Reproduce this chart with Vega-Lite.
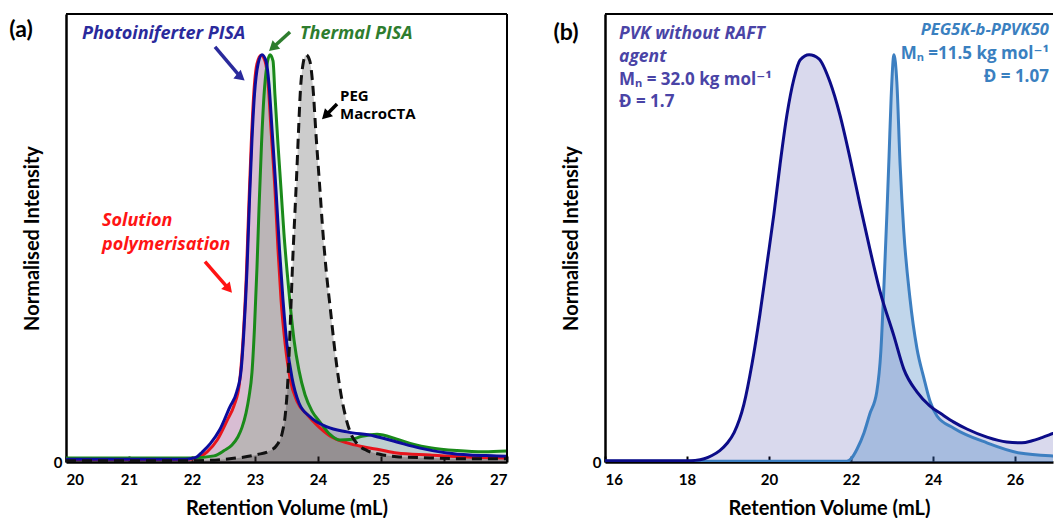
{
  "$schema": "https://vega.github.io/schema/vega-lite/v6.json",
  "autosize": {"type": "pad"},
  "padding": {"left": 9, "top": 13, "right": 0, "bottom": 0},
  "background": "white",
  "bounds": "flush",
  "spacing": 98,
  "datasets": {
    "red": [{"v":20,"i":0.006},{"v":21,"i":0.006},{"v":21.9,"i":0.006},{"v":22.08,"i":0.01},{"v":22.24,"i":0.025},{"v":22.4,"i":0.054},{"v":22.56,"i":0.103},{"v":22.67,"i":0.14},{"v":22.75,"i":0.19},{"v":22.81,"i":0.3},{"v":22.86,"i":0.448},{"v":22.9,"i":0.62},{"v":22.94,"i":0.78},{"v":22.98,"i":0.903},{"v":23.03,"i":0.977},{"v":23.095,"i":0.999},{"v":23.16,"i":0.984},{"v":23.21,"i":0.928},{"v":23.254,"i":0.817},{"v":23.317,"i":0.669},{"v":23.365,"i":0.522},{"v":23.413,"i":0.399},{"v":23.48,"i":0.288},{"v":23.56,"i":0.202},{"v":23.67,"i":0.148},{"v":23.83,"i":0.116},{"v":23.98,"i":0.091},{"v":24.19,"i":0.064},{"v":24.46,"i":0.047},{"v":24.73,"i":0.037},{"v":24.98,"i":0.03},{"v":25.25,"i":0.022},{"v":25.78,"i":0.017},{"v":26.32,"i":0.012},{"v":27,"i":0.01}],
    "blue": [{"v":20,"i":0.007},{"v":21,"i":0.007},{"v":21.9,"i":0.007},{"v":22.0,"i":0.009},{"v":22.08,"i":0.013},{"v":22.16,"i":0.024},{"v":22.29,"i":0.045},{"v":22.44,"i":0.079},{"v":22.6,"i":0.135},{"v":22.71,"i":0.172},{"v":22.78,"i":0.226},{"v":22.825,"i":0.325},{"v":22.873,"i":0.473},{"v":22.913,"i":0.645},{"v":22.952,"i":0.792},{"v":22.992,"i":0.903},{"v":23.048,"i":0.977},{"v":23.111,"i":1.0},{"v":23.175,"i":0.984},{"v":23.222,"i":0.928},{"v":23.27,"i":0.817},{"v":23.333,"i":0.669},{"v":23.389,"i":0.522},{"v":23.444,"i":0.399},{"v":23.508,"i":0.288},{"v":23.587,"i":0.207},{"v":23.698,"i":0.145},{"v":23.873,"i":0.111},{"v":24.143,"i":0.086},{"v":24.46,"i":0.074},{"v":24.89,"i":0.064},{"v":25.25,"i":0.049},{"v":25.62,"i":0.034},{"v":26.05,"i":0.022},{"v":26.41,"i":0.017},{"v":26.84,"i":0.015},{"v":27,"i":0.014}],
    "green": [{"v":20,"i":0.01},{"v":21,"i":0.01},{"v":22.0,"i":0.01},{"v":22.35,"i":0.015},{"v":22.51,"i":0.028},{"v":22.635,"i":0.042},{"v":22.73,"i":0.062},{"v":22.794,"i":0.085},{"v":22.857,"i":0.12},{"v":22.905,"i":0.16},{"v":22.952,"i":0.22},{"v":22.992,"i":0.33},{"v":23.032,"i":0.48},{"v":23.063,"i":0.62},{"v":23.103,"i":0.78},{"v":23.143,"i":0.9},{"v":23.19,"i":0.975},{"v":23.238,"i":1.0},{"v":23.286,"i":0.985},{"v":23.317,"i":0.9},{"v":23.365,"i":0.78},{"v":23.413,"i":0.67},{"v":23.46,"i":0.56},{"v":23.508,"i":0.47},{"v":23.556,"i":0.39},{"v":23.619,"i":0.3},{"v":23.698,"i":0.225},{"v":23.794,"i":0.165},{"v":23.905,"i":0.125},{"v":24.032,"i":0.098},{"v":24.19,"i":0.068},{"v":24.349,"i":0.054},{"v":24.508,"i":0.055},{"v":24.698,"i":0.063},{"v":24.937,"i":0.068},{"v":25.254,"i":0.056},{"v":25.524,"i":0.043},{"v":25.778,"i":0.035},{"v":26.206,"i":0.028},{"v":26.635,"i":0.025},{"v":27,"i":0.027}],
    "black": [{"v":20,"i":0.003},{"v":22.0,"i":0.003},{"v":22.29,"i":0.004},{"v":22.6,"i":0.008},{"v":23.03,"i":0.018},{"v":23.24,"i":0.028},{"v":23.35,"i":0.042},{"v":23.43,"i":0.07},{"v":23.48,"i":0.115},{"v":23.51,"i":0.17},{"v":23.54,"i":0.26},{"v":23.57,"i":0.38},{"v":23.6,"i":0.5},{"v":23.63,"i":0.6},{"v":23.66,"i":0.7},{"v":23.69,"i":0.81},{"v":23.72,"i":0.91},{"v":23.76,"i":0.975},{"v":23.81,"i":1.0},{"v":23.87,"i":0.985},{"v":23.92,"i":0.92},{"v":23.97,"i":0.8},{"v":24.03,"i":0.67},{"v":24.08,"i":0.56},{"v":24.13,"i":0.47},{"v":24.2,"i":0.37},{"v":24.27,"i":0.27},{"v":24.35,"i":0.18},{"v":24.44,"i":0.11},{"v":24.52,"i":0.07},{"v":24.62,"i":0.045},{"v":24.78,"i":0.028},{"v":24.98,"i":0.019},{"v":25.25,"i":0.013},{"v":25.78,"i":0.01},{"v":26.32,"i":0.008},{"v":27,"i":0.008}],
    "annA": [{"v":20.254,"i":1.051,"label":"Photoiniferter PISA","who":"photo"},{"v":23.714,"i":1.051,"label":"Thermal PISA","who":"thermal"},{"v":20.571,"i":0.591,"label":"Solution","who":"solution"},{"v":20.571,"i":0.532,"label":"polymerisation","who":"solution"}],
    "pegA": [{"v":24.349,"i":0.898,"label":"PEG"},{"v":24.349,"i":0.854,"label":"MacroCTA"}],
    "arrA": [{"v":22.365,"i":1.019,"v2":22.775,"i2":0.9445,"who":"photo"},{"v":23.556,"i":1.056,"v2":23.281,"i2":1.017,"who":"thermal"},{"v":24.302,"i":0.879,"v2":24.119,"i2":0.85,"who":"peg"},{"v":22.206,"i":0.492,"v2":22.583,"i2":0.425,"who":"solution"}],
    "headA": [{"v":22.775,"i":0.9445,"who":"photo"},{"v":23.281,"i":1.017,"who":"thermal"},{"v":24.119,"i":0.85,"who":"peg"},{"v":22.583,"i":0.425,"who":"solution"}],
    "tagA": [{"v":19.286,"i":1.061,"label":"(a)"}],
    "frameA": [{"v":20,"v2":27,"i":1.1,"i2":1.1},{"v":27,"v2":27,"i":0,"i2":1.1}],
    "pvk": [{"v":16,"i":0.003},{"v":17,"i":0.003},{"v":18,"i":0.003},{"v":18.2,"i":0.004},{"v":18.42,"i":0.008},{"v":18.61,"i":0.016},{"v":18.8,"i":0.028},{"v":18.98,"i":0.046},{"v":19.15,"i":0.072},{"v":19.39,"i":0.142},{"v":19.585,"i":0.24},{"v":19.78,"i":0.363},{"v":19.95,"i":0.485},{"v":20.12,"i":0.608},{"v":20.27,"i":0.73},{"v":20.44,"i":0.853},{"v":20.61,"i":0.941},{"v":20.76,"i":0.987},{"v":20.98,"i":1.0},{"v":21.22,"i":0.99},{"v":21.49,"i":0.933},{"v":21.73,"i":0.853},{"v":21.98,"i":0.745},{"v":22.22,"i":0.632},{"v":22.46,"i":0.524},{"v":22.71,"i":0.419},{"v":23.05,"i":0.309},{"v":23.29,"i":0.228},{"v":23.61,"i":0.172},{"v":23.93,"i":0.137},{"v":24.22,"i":0.117},{"v":24.51,"i":0.098},{"v":24.83,"i":0.081},{"v":25.32,"i":0.061},{"v":25.8,"i":0.049},{"v":26.17,"i":0.047},{"v":26.42,"i":0.052},{"v":26.66,"i":0.06},{"v":26.93,"i":0.07},{"v":27.2,"i":0.08}],
    "pegb": [{"v":16,"i":0.002},{"v":20,"i":0.002},{"v":21.9,"i":0.002},{"v":22.02,"i":0.01},{"v":22.15,"i":0.032},{"v":22.32,"i":0.072},{"v":22.46,"i":0.118},{"v":22.63,"i":0.172},{"v":22.73,"i":0.272},{"v":22.8,"i":0.419},{"v":22.88,"i":0.615},{"v":22.93,"i":0.75},{"v":22.98,"i":0.892},{"v":23.05,"i":1.0},{"v":23.12,"i":0.933},{"v":23.2,"i":0.73},{"v":23.29,"i":0.566},{"v":23.44,"i":0.402},{"v":23.61,"i":0.279},{"v":23.78,"i":0.206},{"v":23.93,"i":0.149},{"v":24.1,"i":0.113},{"v":24.51,"i":0.083},{"v":25.32,"i":0.047},{"v":26.12,"i":0.022},{"v":26.93,"i":0.015},{"v":27.2,"i":0.014}],
    "annB1": [{"v":16.341,"i":1.051,"label":"PVK without RAFT"},{"v":16.341,"i":0.995,"label":"agent"}],
    "annB2": [{"v":16.341,"i":0.938,"label":"Mₙ = 32.0 kg mol⁻¹"},{"v":16.341,"i":0.884,"label":"Đ = 1.7"}],
    "annB3": [{"v":26.83,"i":1.061,"label":"PEG5K-b-PPVK50"}],
    "annB4": [{"v":26.83,"i":1.002,"label":"Mₙ =11.5 kg mol⁻¹"},{"v":26.83,"i":0.946,"label":"Đ = 1.07"}],
    "tagB": [{"v":15.049,"i":1.053,"label":"(b)"}],
    "frameB": [{"v":16,"v2":26.93,"i":1.1,"i2":1.1}]
  },
  "hconcat": [
    {
      "width": 441,
      "height": 448,
      "encoding": {
        "x": {"field": "v", "type": "quantitative", "scale": {"domain": [20, 27], "nice": false, "zero": false},
              "axis": {"orient": "bottom", "values": [20,21,22,23,24,25,26,27], "tickSize": -6, "labelPadding": 16, "title": "Retention Volume (mL)", "titlePadding": 11}},
        "y": {"field": "i", "type": "quantitative", "scale": {"domain": [0, 1.1], "nice": false},
              "axis": {"values": [0], "ticks": false, "labelPadding": 4, "title": "Normalised Intensity", "titlePadding": 11}}
      },
      "layer": [
        {"data": {"name": "red"}, "mark": {"type": "area", "color": "#e8141c", "opacity": 0.15, "interpolate": "monotone", "clip": true}},
        {"data": {"name": "blue"}, "mark": {"type": "area", "color": "#0c0c9c", "opacity": 0.15, "interpolate": "monotone", "clip": true}},
        {"data": {"name": "green"}, "mark": {"type": "area", "color": "#1a8a1a", "opacity": 0.15, "interpolate": "monotone", "clip": true}},
        {"data": {"name": "black"}, "mark": {"type": "area", "color": "#000000", "opacity": 0.2, "interpolate": "monotone", "clip": true}},
        {"data": {"name": "red"}, "mark": {"type": "line", "color": "#e8141c", "strokeWidth": 3, "interpolate": "monotone", "clip": true}},
        {"data": {"name": "green"}, "mark": {"type": "line", "color": "#1a8a1a", "strokeWidth": 3, "interpolate": "monotone", "clip": true}},
        {"data": {"name": "blue"}, "mark": {"type": "line", "color": "#0c0c9c", "strokeWidth": 3, "interpolate": "monotone", "clip": true}},
        {"data": {"name": "black"}, "mark": {"type": "line", "color": "#111111", "strokeWidth": 3, "strokeDash": [10, 6], "interpolate": "monotone", "clip": true}},
        {"data": {"name": "frameA"}, "mark": {"type": "rule", "color": "#000", "strokeWidth": 2, "clip": false},
         "encoding": {"x2": {"field": "v2"}, "y2": {"field": "i2"}}},
        {"data": {"name": "annA"}, "mark": {"type": "text", "align": "left", "baseline": "middle", "fontSize": 18, "fontWeight": "bold", "fontStyle": "italic", "font": "Open Sans"},
         "encoding": {"text": {"field": "label"}, "color": {"field": "who", "type": "nominal", "legend": null, "scale": {"domain": ["photo", "thermal", "solution", "peg"], "range": ["#2a2a9c", "#2e7d2e", "#ff1414", "#000000"]}}}},
        {"data": {"name": "pegA"}, "mark": {"type": "text", "align": "left", "baseline": "middle", "fontSize": 15, "fontWeight": "bold", "font": "Open Sans", "color": "#000"},
         "encoding": {"text": {"field": "label"}}},
        {"data": {"name": "arrA"}, "mark": {"type": "rule", "strokeWidth": 3.5},
         "encoding": {"x2": {"field": "v2"}, "y2": {"field": "i2"}, "color": {"field": "who", "type": "nominal", "legend": null, "scale": {"domain": ["photo", "thermal", "solution", "peg"], "range": ["#2a2a9c", "#2e7d2e", "#ff1414", "#000000"]}}}},
        {"data": {"name": "headA"}, "mark": {"type": "point", "shape": "triangle-up", "filled": true, "size": 130, "opacity": 1},
         "encoding": {
           "color": {"field": "who", "type": "nominal", "legend": null, "scale": {"domain": ["photo", "thermal", "solution", "peg"], "range": ["#2a2a9c", "#2e7d2e", "#ff1414", "#000000"]}},
           "angle": {"field": "who", "type": "nominal", "legend": null, "scale": {"type": "ordinal", "domain": ["photo", "thermal", "solution", "peg"], "range": [130, 228, 139, 225]}}}},
        {"data": {"name": "tagA"}, "mark": {"type": "text", "align": "center", "baseline": "middle", "fontSize": 23, "fontWeight": "bold", "font": "Lato", "color": "#000", "clip": false},
         "encoding": {"text": {"field": "label"}}}
      ]
    },
    {
      "width": 448,
      "height": 448,
      "encoding": {
        "x": {"field": "v", "type": "quantitative", "scale": {"domain": [16, 26.93], "nice": false, "zero": false},
              "axis": {"orient": "bottom", "values": [16,18,20,22,24,26], "tickSize": -6, "labelPadding": 16, "title": "Retention Volume (mL)", "titlePadding": 11}},
        "y": {"field": "i", "type": "quantitative", "scale": {"domain": [0, 1.1], "nice": false},
              "axis": {"values": [0], "ticks": false, "labelPadding": 4, "title": "Normalised Intensity", "titlePadding": 11}}
      },
      "layer": [
        {"data": {"name": "pvk"}, "mark": {"type": "area", "color": "#10108c", "opacity": 0.16, "interpolate": "monotone", "clip": true}},
        {"data": {"name": "pegb"}, "mark": {"type": "area", "color": "#3d7fc1", "opacity": 0.32, "interpolate": "monotone", "clip": true}},
        {"data": {"name": "pegb"}, "mark": {"type": "line", "color": "#3d7fc1", "strokeWidth": 3, "interpolate": "monotone", "clip": true}},
        {"data": {"name": "pvk"}, "mark": {"type": "line", "color": "#0c0c88", "strokeWidth": 3, "interpolate": "monotone", "clip": true}},
        {"data": {"name": "frameB"}, "mark": {"type": "rule", "color": "#000", "strokeWidth": 2, "clip": false}, "encoding": {"x2": {"field": "v2"}, "y2": {"field": "i2"}}},
        {"data": {"name": "annB1"}, "mark": {"type": "text", "align": "left", "baseline": "middle", "fontSize": 17.5, "fontWeight": "bold", "fontStyle": "italic", "font": "Open Sans", "color": "#4a44a6"}, "encoding": {"text": {"field": "label"}}},
        {"data": {"name": "annB2"}, "mark": {"type": "text", "align": "left", "baseline": "middle", "fontSize": 17, "fontWeight": "bold", "font": "Open Sans, DejaVu Sans", "color": "#4a44a6"}, "encoding": {"text": {"field": "label"}}},
        {"data": {"name": "annB3"}, "mark": {"type": "text", "align": "right", "baseline": "middle", "fontSize": 16.5, "fontWeight": "bold", "fontStyle": "italic", "font": "Open Sans", "color": "#3a80c0"}, "encoding": {"text": {"field": "label"}}},
        {"data": {"name": "annB4"}, "mark": {"type": "text", "align": "right", "baseline": "middle", "fontSize": 17, "fontWeight": "bold", "font": "Open Sans, DejaVu Sans", "color": "#3a80c0"}, "encoding": {"text": {"field": "label"}}},
        {"data": {"name": "tagB"}, "mark": {"type": "text", "align": "center", "baseline": "middle", "fontSize": 23, "fontWeight": "bold", "font": "Lato", "color": "#000", "clip": false}, "encoding": {"text": {"field": "label"}}}
      ]
    }
  ],
  "config": {
    "view": {"stroke": null},
    "font": "Lato",
    "axis": {"grid": false, "domainColor": "#000", "domainWidth": 2.5, "tickColor": "#000", "tickWidth": 2, "labelColor": "#000", "labelFont": "Lato", "labelFontWeight": "bold", "labelFontSize": 15, "titleColor": "#000", "titleFont": "Lato", "titleFontWeight": "bold", "titleFontSize": 20, "labelOverlap": false}
  }
}
